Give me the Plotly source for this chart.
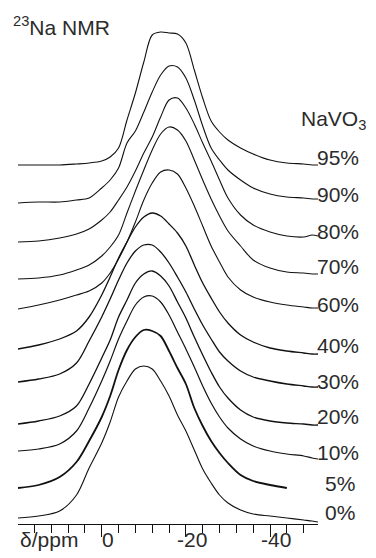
import plotly.graph_objects as go

# Chemical shift grid (ppm), shared by all spectra
ppm = [19.9, 15, 10, 6, 3, 0, -2, -4, -6, -8, -10, -12, -14, -16, -18, -20,
       -22, -24, -26, -28, -30, -33, -36, -40, -44, -48, -50, -51.4]

# Spectrum intensities (a.u.), one list per NaVO3 content
i95 = [0, 0, 0, 1, 2, 4, 8, 17, 45, 72, 103, 130, 133, 132, 131, 122, 95, 67, 44, 33, 25, 17, 11, 5, 2, 1, 0, 0]
i90 = [0, 1, 1, 3, 5, 15, 23, 35, 60, 72, 91, 111, 128, 137, 136, 125, 103, 77, 55, 43, 33, 23, 15, 9, 6, 5, 4, 4]
i80 = [0, 1, 4, 8, 13, 22, 30, 42, 55, 71, 89, 105, 125, 142, 144, 134, 118, 99, 81, 62, 44, 27, 17, 10, 6, 5, 7, 6]
i70 = [0, 1, 4, 9, 14, 23, 32, 44, 66, 88, 109, 129, 145, 152, 149, 138, 119, 99, 80, 63, 48, 33, 19, 11, 7, 6, 5, 5]
i60 = [0, 4, 9, 14, 18, 26, 36, 50, 67, 87, 109, 126, 137, 139, 135, 121, 103, 83, 63, 47, 32, 19, 12, 7, 4, 2, 1, 1]
i40 = [0, 4, 10, 18, 32, 54, 72, 91, 107, 122, 132, 136, 133, 125, 116, 103, 84, 66, 51, 37, 26, 14, 7, 1, -2, -4, -5, -5]
i30 = [0, 3, 8, 19, 41, 65, 83, 102, 119, 131, 137, 137, 130, 119, 105, 90, 73, 57, 43, 30, 21, 11, 5, 1, -2, -4, -5, -5]
i20 = [0, 3, 8, 18, 40, 66, 84, 107, 124, 141, 150, 153, 148, 138, 122, 106, 87, 69, 52, 37, 26, 14, 7, 3, 1, 0, -1, -1]
i10 = [0, 2, 7, 20, 43, 70, 90, 112, 130, 146, 154, 155, 149, 136, 119, 102, 84, 65, 48, 34, 23, 12, 5, 0, -3, -5, -7, -8]
i05 = [0, 3, 11, 26, 47, 71, 92, 118, 138, 151, 158, 157, 152, 137, 120, 104, 80, 62, 47, 35, 25, 13, 7, 3, 0, None, None, None]
i00 = [0, 2, 7, 23, 50, 75, 96, 121, 137, 149, 152, 149, 137, 122, 103, 87, 68, 49, 35, 23, 15, 8, 4, 2, 0, -2, -3, -4]

labels = ["95%", "90%", "80%", "70%", "60%", "40%", "30%", "20%", "10%", "5%", "0%"]
spectra = [i95, i90, i80, i70, i60, i40, i30, i20, i10, i05, i00]

# Axis tick labels
tick_vals = [0, -20, -40]
tick_text = ["0", "-20", "-40"]

# Vertical stacking of the traces
stack_offset = [359, 321, 282, 245, 215, 175, 142, 100, 73, 36, 6]
line_w = [1.1, 1.1, 1.1, 1.1, 1.1, 1.3, 1.3, 1.3, 1.2, 1.8, 1.1]
# Label placement (pixel coordinates inside the page)
label_px = [(315, 157.5), (315, 194), (315, 232), (315, 266), (315, 305), (315, 345),
            (315, 381), (315, 416), (315, 452), (323, 483), (323, 512)]

W, H = 376, 558
ML, MR, MT, MB = 18, 58, 0, 34
PW, PH = W - ML - MR, H - MT - MB

FONT = "Liberation Sans, Arial, sans-serif"
TXT = "#2b2b2b"
FS = 21


def px_to_paper(px, py):
    return (px - ML) / PW, (H - MB - py) / PH


fig = go.Figure()
for name, ys, off, lw in zip(labels, spectra, stack_offset, line_w):
    fig.add_trace(go.Scatter(
        x=ppm,
        y=[None if v is None else v + off for v in ys],
        mode="lines",
        name=name,
        line=dict(color="#111111", width=lw, shape="spline", smoothing=0.9),
        showlegend=False,
        hoverinfo="skip",
    ))

annotations = []
for name, (lx, ly) in zip(labels, label_px):
    ax, ay = px_to_paper(lx, ly)
    annotations.append(dict(x=ax, y=ay, xref="paper", yref="paper", text=name,
                            showarrow=False, xanchor="left", yanchor="middle",
                            font=dict(family=FONT, size=FS, color=TXT)))

ax, ay = px_to_paper(299, 120)
annotations.append(dict(x=ax, y=ay, xref="paper", yref="paper", text="NaVO<sub>3</sub>",
                        showarrow=False, xanchor="left", yanchor="middle",
                        font=dict(family=FONT, size=FS, color=TXT)))
ax, ay = px_to_paper(11, 26)
annotations.append(dict(x=ax, y=ay, xref="paper", yref="paper",
                        text="<sup>23</sup>Na NMR",
                        showarrow=False, xanchor="left", yanchor="middle",
                        font=dict(family=FONT, size=FS, color=TXT)))
ax, ay = px_to_paper(49, 539)
annotations.append(dict(x=ax, y=ay, xref="paper", yref="paper", text="δ/ppm",
                        showarrow=False, xanchor="center", yanchor="middle",
                        font=dict(family=FONT, size=FS, color=TXT)))

# tick labels sit just below and a little right of the major ticks
_, ty = px_to_paper(0, 539)
for v, t in zip(tick_vals, tick_text):
    annotations.append(dict(x=v, y=ty, xref="x", yref="paper", text=t,
                            showarrow=False, xanchor="center", yanchor="middle",
                            xshift=6,
                            font=dict(family=FONT, size=FS, color=TXT)))

fig.update_layout(
    width=W, height=H,
    margin=dict(l=ML, r=MR, t=MT, b=MB, pad=0),
    paper_bgcolor="white", plot_bgcolor="white",
    annotations=annotations,
    xaxis=dict(
        range=[19.9, -51.4], showgrid=False, zeroline=False,
        showline=True, linecolor="#111111", linewidth=1.3,
        ticks="outside", ticklen=12, tickwidth=1.2, tickcolor="#111111",
        tick0=0, dtick=20, showticklabels=False,
        minor=dict(ticks="outside", dtick=4, ticklen=8, tickwidth=1.2,
                   tickcolor="#111111", showgrid=False),
    ),
    yaxis=dict(range=[0, PH], visible=False, showgrid=False, zeroline=False),
)

fig.write_html("out.html")
